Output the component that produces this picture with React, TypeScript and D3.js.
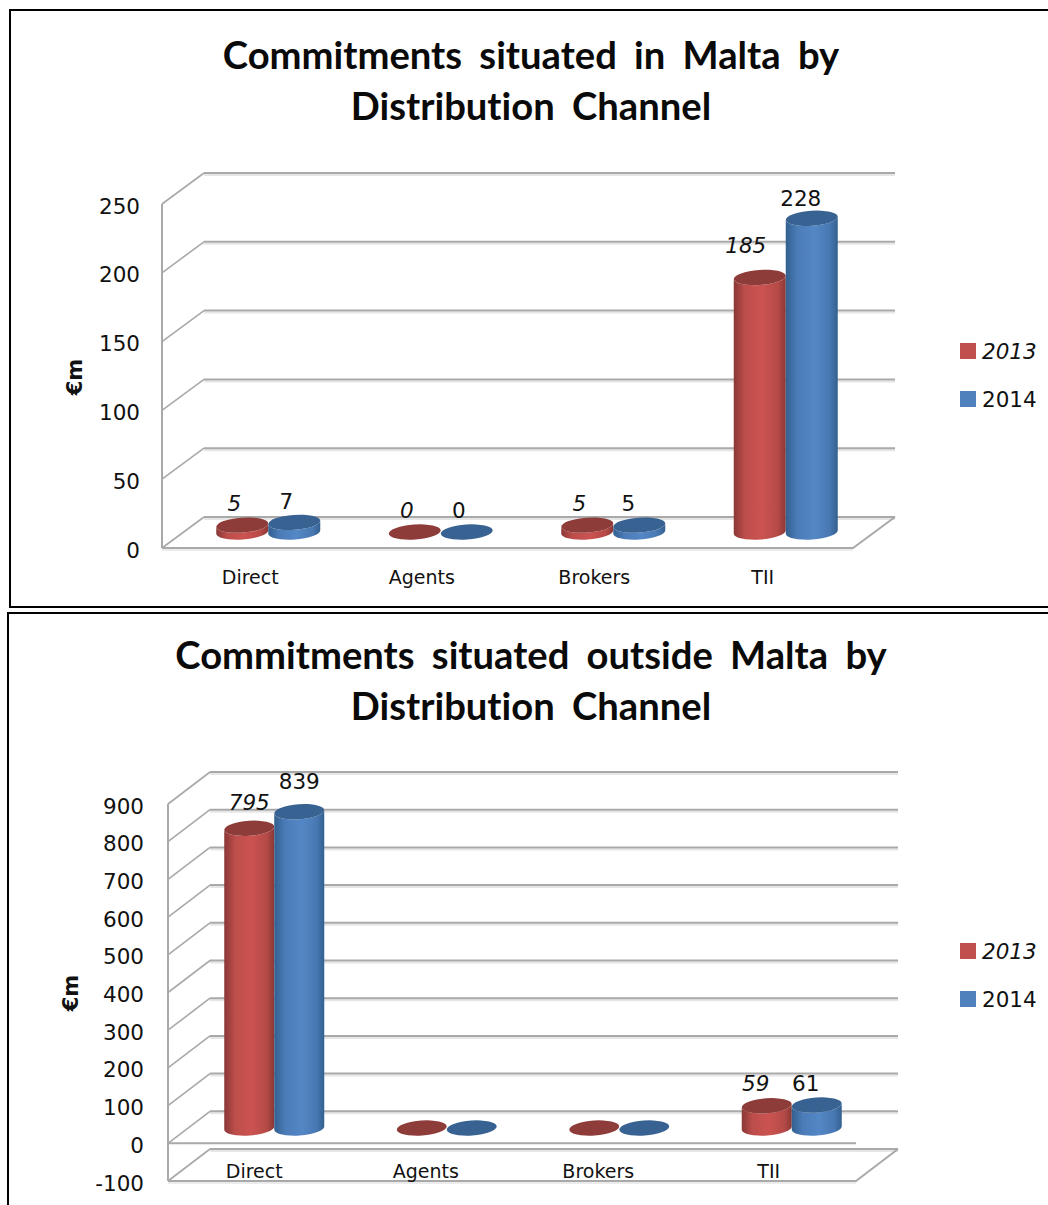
import React from "react";
import * as d3 from "d3";

// Distribution channels and yearly commitments (EUR millions)
const channels = ["Direct", "Agents", "Brokers", "TII"];
const years = ["2013", "2014"];
const maltaValues2013 = [5, 0, 5, 185];
const maltaValues2014 = [7, 0, 5, 228];
const outsideValues2013 = [795, 0, 0, 59];
const outsideValues2014 = [839, 0, 0, 61];
const maltaTicks = [0, 50, 100, 150, 200, 250];
const outsideTicks = [-100, 0, 100, 200, 300, 400, 500, 600, 700, 800, 900];
const maltaTitle = ["Commitments situated in Malta by", "Distribution Channel"];
const outsideTitle = ["Commitments situated outside Malta by", "Distribution Channel"];

const UI_FONT = "'DejaVu Sans', sans-serif";
const TITLE_FONT = "Lato, 'Open Sans', sans-serif";
const GRID = "#a9a9a9";
const GRID_SOFT = "#e6e6e6";
const TEXT = "#111";

type Layout = {
  frontX: number; frontRight: number; depthX: number; depthY: number;
  domain: [number, number]; range: [number, number];
  ticks: number[]; floor: number; baseY: number;
  bandStart: number; bandEnd: number; rx: number;
  title: string[]; titleY: number[]; unitX: number; unitY: number; tickEnd: number;
  catShift: number[]; catY: number; legendY: number[];
  values: number[][]; labelNudge: [number, number][][]; hideZeroLabels: boolean;
};

function Cylinder({ cx, top, base, rx, fill, cap }: { cx: number; top: number; base: number; rx: number; fill: string; cap: string }) {
  const ry = 7.5;
  const tilt = -4;
  const lift = rx * Math.sin((-tilt * Math.PI) / 180);
  const body = `M${cx - rx},${top + lift} L${cx - rx},${base + lift} A${rx},${ry} ${tilt} 0 0 ${cx + rx},${base - lift} L${cx + rx},${top - lift} A${rx},${ry} ${tilt} 0 1 ${cx - rx},${top + lift} Z`;
  return (
    <g>
      <path d={body} fill={fill} />
      <ellipse cx={cx} cy={top} rx={rx} ry={ry} fill={cap} transform={`rotate(${tilt} ${cx} ${top})`} />
    </g>
  );
}

function Chart({ c }: { c: Layout }) {
  const y = d3.scaleLinear().domain(c.domain).range(c.range);
  const x = d3.scaleBand<string>().domain(channels).range([c.bandStart, c.bandEnd]);
  const backX = c.frontX + c.depthX;
  const backRight = c.frontRight + c.depthX;
  const baseline = y(c.floor);
  const zero = y(0);
  const unit = zero - y(1);
  const fills = ["url(#barRed)", "url(#barBlue)"];
  const caps = ["#8e3c3a", "#386291"];
  const barW = c.rx * 2;
  const barX = (ci: number, si: number) => (x(channels[ci]) as number) + x.bandwidth() / 2 + (si - 0.5) * barW;

  return (
    <g>
      {c.title.map((t, i) => (
        <text key={t} x={531} y={c.titleY[i]} textAnchor="middle" dominantBaseline="central"
          fontFamily={TITLE_FONT} fontWeight={700} fontSize={38.2} wordSpacing={8} fill="#0a0a0a"
          style={{ fontVariantLigatures: "none" }}>{t}</text>
      ))}

      {/* back wall gridlines and side wall diagonals */}
      {c.ticks.map((t) => {
        const fy = y(t);
        const by = fy - c.depthY;
        return (
          <g key={t} fill="none">
            <line x1={backX} x2={backRight} y1={by + 2} y2={by + 2} stroke={GRID_SOFT} strokeWidth={2} />
            <line x1={backX} x2={backRight} y1={by} y2={by} stroke={GRID} strokeWidth={2} />
            <line x1={c.frontX} x2={backX} y1={fy} y2={by} stroke={GRID} strokeWidth={1.6} />
          </g>
        );
      })}
      <line x1={c.frontX} x2={c.frontX} y1={y(c.domain[1])} y2={baseline} stroke={GRID} strokeWidth={2} />
      <path d={`M${c.frontX},${baseline} L${c.frontRight},${baseline} L${backRight},${baseline - c.depthY}`}
        fill="none" stroke={GRID} strokeWidth={2} />
      <line x1={c.frontX} x2={c.frontRight} y1={baseline + 2} y2={baseline + 2} stroke={GRID_SOFT} strokeWidth={1.5} />
      {c.floor !== 0 && <line x1={c.frontX} x2={c.frontRight} y1={zero} y2={zero} stroke={GRID} strokeWidth={2} />}

      {/* cylinders, 2013 first so that 2014 sits over its edge */}
      {channels.map((ch, ci) =>
        years.map((yr, si) => {
          const v = c.values[si][ci];
          return (
            <Cylinder key={ch + yr} cx={barX(ci, si)} base={c.baseY} top={c.baseY - v * unit}
              rx={c.rx} fill={fills[si]} cap={caps[si]} />
          );
        })
      )}

      {/* data labels */}
      {channels.map((ch, ci) =>
        years.map((yr, si) => {
          const v = c.values[si][ci];
          if (v === 0 && c.hideZeroLabels) return null;
          const [dx, dy] = c.labelNudge[si][ci];
          return (
            <text key={ch + yr} x={barX(ci, si) + dx} y={c.baseY - v * unit + dy} textAnchor="middle"
              dominantBaseline="central" fontFamily={UI_FONT} fontSize={21.5} fontStyle={si === 0 ? "italic" : "normal"} fill={TEXT}>{v}</text>
          );
        })
      )}

      {/* value axis */}
      {c.ticks.map((t) => (
        <text key={t} x={c.tickEnd} y={y(t) + 2} textAnchor="end" dominantBaseline="central"
          fontFamily={UI_FONT} fontSize={21.5} fill={TEXT}>{t}</text>
      ))}
      <text transform={`translate(${c.unitX},${c.unitY}) rotate(-90)`} textAnchor="middle" dominantBaseline="central"
        fontFamily={UI_FONT} fontWeight={700} fontSize={21} fill={TEXT}>€m</text>

      {/* channel axis */}
      {channels.map((ch, ci) => (
        <text key={ch} x={(x(ch) as number) + x.bandwidth() / 2 + c.catShift[ci]} y={c.catY} textAnchor="middle"
          dominantBaseline="central" fontFamily={UI_FONT} fontSize={19} fill={TEXT}>{ch}</text>
      ))}

      {/* legend */}
      {years.map((yr, i) => (
        <g key={yr}>
          <rect x={960} y={c.legendY[i] - 8} width={16} height={16} fill={i === 0 ? "#c0504d" : "#4f81bd"} />
          <text x={982} y={c.legendY[i]} dominantBaseline="central" fontFamily={UI_FONT} fontSize={21.5}
            fontStyle={i === 0 ? "italic" : "normal"} fill={TEXT}>{yr}</text>
        </g>
      ))}
    </g>
  );
}

const maltaLayout: Layout = {
  frontX: 162, frontRight: 853, depthX: 42, depthY: 31,
  domain: [0, 250], range: [548, 204], ticks: maltaTicks, floor: 0, baseY: 532,
  bandStart: 182, bandEnd: 872, rx: 26,
  title: maltaTitle, titleY: [54, 105], unitX: 75, unitY: 377, tickEnd: 140,
  catShift: [-18, -19, -19, -23], catY: 577, legendY: [351, 399],
  values: [maltaValues2013, maltaValues2014],
  labelNudge: [
    [[-8, -22], [-8, -22], [-8, -22], [-14, -32]],
    [[-8, -21], [-8, -22], [-11, -22], [-11, -20]],
  ],
  hideZeroLabels: false,
};

const outsideLayout: Layout = {
  frontX: 168, frontRight: 856, depthX: 42, depthY: 32,
  domain: [-100, 900], range: [1181, 804], ticks: outsideTicks, floor: -100, baseY: 1128,
  bandStart: 188, bandEnd: 878, rx: 25,
  title: outsideTitle, titleY: [654, 705], unitX: 71, unitY: 993, tickEnd: 144,
  catShift: [-20, -21, -21, -23], catY: 1171, legendY: [951, 999],
  values: [outsideValues2013, outsideValues2014],
  labelNudge: [
    [[0, -26], [0, -20], [0, -20], [-11, -22]],
    [[0, -30], [0, -20], [0, -20], [-11, -22]],
  ],
  hideZeroLabels: true,
};

export default function App() {
  return (
    <svg width={1048} height={1205} viewBox="0 0 1048 1205"
      style={{ position: "absolute", left: 0, top: 0, background: "#fff", display: "block" }}>
      <defs>
        <linearGradient id="barRed" x1="0" x2="1" y1="0" y2="0">
          <stop offset="0" stopColor="#8a3836" />
          <stop offset="0.22" stopColor="#bd4e4b" />
          <stop offset="0.55" stopColor="#cb5350" />
          <stop offset="0.85" stopColor="#b54a47" />
          <stop offset="1" stopColor="#8a3836" />
        </linearGradient>
        <linearGradient id="barBlue" x1="0" x2="1" y1="0" y2="0">
          <stop offset="0" stopColor="#33608f" />
          <stop offset="0.22" stopColor="#4b7cb8" />
          <stop offset="0.55" stopColor="#5487c6" />
          <stop offset="0.85" stopColor="#4878b2" />
          <stop offset="1" stopColor="#33608f" />
        </linearGradient>
      </defs>

      {/* panel outlines; both run off the right edge and the lower one off the bottom */}
      <path d="M1049,10 L10,10 L10,607 L1049,607" fill="none" stroke="#000" strokeWidth={2} />
      <path d="M1049,613 L8,613 L8,1206" fill="none" stroke="#000" strokeWidth={2} />

      <Chart c={maltaLayout} />
      <Chart c={outsideLayout} />
    </svg>
  );
}
